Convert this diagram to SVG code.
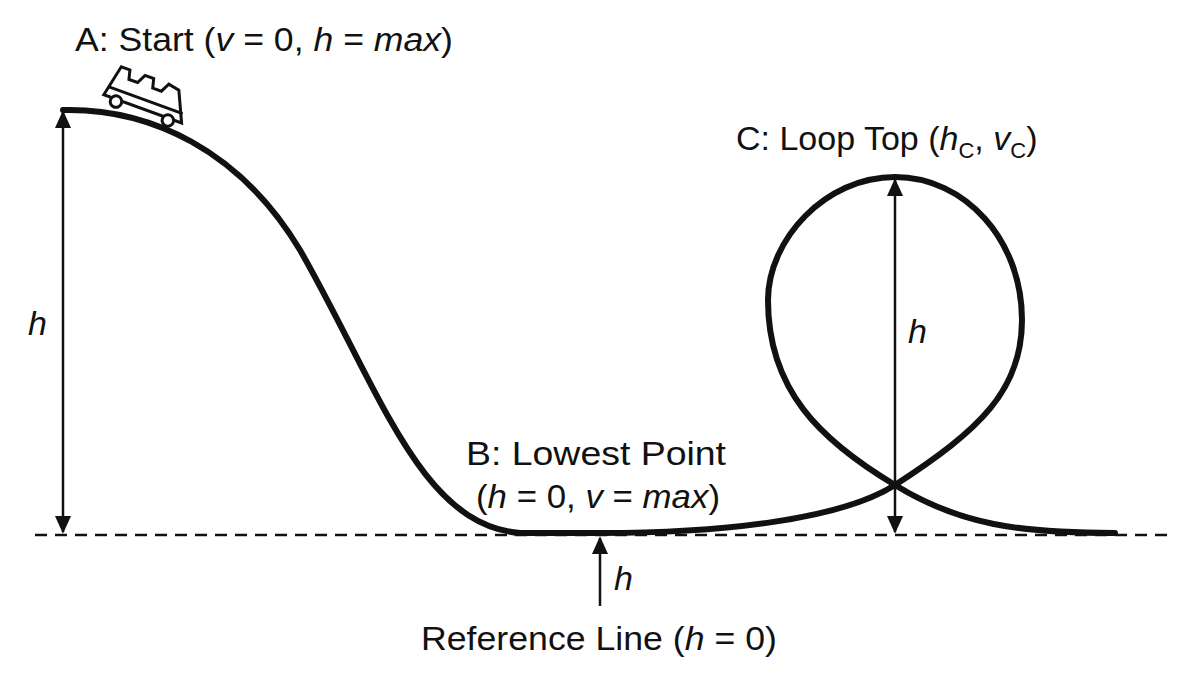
<svg xmlns="http://www.w3.org/2000/svg" width="1200" height="675" viewBox="0 0 1200 675">
<style>
text{font-family:"Liberation Sans",Arial,sans-serif;font-size:34px;fill:#111}
.i{font-style:italic}
.ln{stroke:#111;stroke-width:2.5;fill:none}
.tr{stroke:#111;stroke-width:6;fill:none;stroke-linecap:round}
</style>
<defs>
<marker id="a2" viewBox="0 0 10 10" refX="9" refY="5" markerWidth="18" markerHeight="18" markerUnits="userSpaceOnUse" orient="auto-start-reverse"><path d="M0,0.5 L10,5 L0,9.5 Z" fill="#111"/></marker>
</defs>
<rect width="1200" height="675" fill="#fff"/>
<g id="reference-line"><line x1="35" y1="535" x2="1170" y2="535" stroke="#111" stroke-width="2.5" stroke-dasharray="12,8"/></g>
<g id="track">
<path class="tr" d="M63,110 C150,108 240,150 300,250 C380,390 420,525 520,533 L600,533 C720,533 840,520 895,485 C980,430 1022,390 1022,320 C1022,240 965,177 895,177 C825,177 768,240 768,300 C768,390 820,440 895,485 C960,525 1020,533 1115,533"/>
</g>
<g id="connectors">
<line class="ln" x1="63" y1="112" x2="63" y2="532" marker-start="url(#a2)" marker-end="url(#a2)"/>
<line class="ln" x1="895" y1="180" x2="895" y2="532" marker-start="url(#a2)" marker-end="url(#a2)"/>
<line class="ln" x1="600" y1="606" x2="600" y2="538" marker-end="url(#a2)"/>
</g>
<g id="cart" transform="translate(148,101) rotate(20) scale(1.15)" stroke="#111" stroke-width="2.6" fill="#fff">
<path d="M-38,8 L-32,-20 L-24,-20 L-22,-12 L-14,-12 L-10,-20 L-2,-20 L0,-12 L8,-12 L12,-20 L22,-18 L34,8 Z"/>
<line x1="-36" y1="0" x2="32" y2="0"/>
<circle cx="-26" cy="10" r="5"/>
<circle cx="22" cy="10" r="5"/>
</g>
<g id="labels">
<text x="75" y="51" textLength="378" lengthAdjust="spacingAndGlyphs">A: Start (<tspan class="i">v</tspan> = 0, <tspan class="i">h</tspan> = <tspan class="i">max</tspan>)</text>
<text x="736" y="150">C: Loop Top (<tspan class="i">h</tspan><tspan font-size="22" dy="8">C</tspan><tspan dy="-8">, </tspan><tspan class="i">v</tspan><tspan font-size="22" dy="8">C</tspan><tspan dy="-8">)</tspan></text>
<text x="28" y="335" class="i">h</text>
<text x="908" y="343" class="i">h</text>
<text x="466" y="465" textLength="260" lengthAdjust="spacingAndGlyphs">B: Lowest Point</text>
<text x="476" y="508" textLength="244" lengthAdjust="spacingAndGlyphs">(<tspan class="i">h</tspan> = 0, <tspan class="i">v</tspan> = <tspan class="i">max</tspan>)</text>
<text x="614" y="590" class="i">h</text>
<text x="421" y="650" textLength="356" lengthAdjust="spacingAndGlyphs">Reference Line (<tspan class="i">h</tspan> = 0)</text>
</g>
</svg>
